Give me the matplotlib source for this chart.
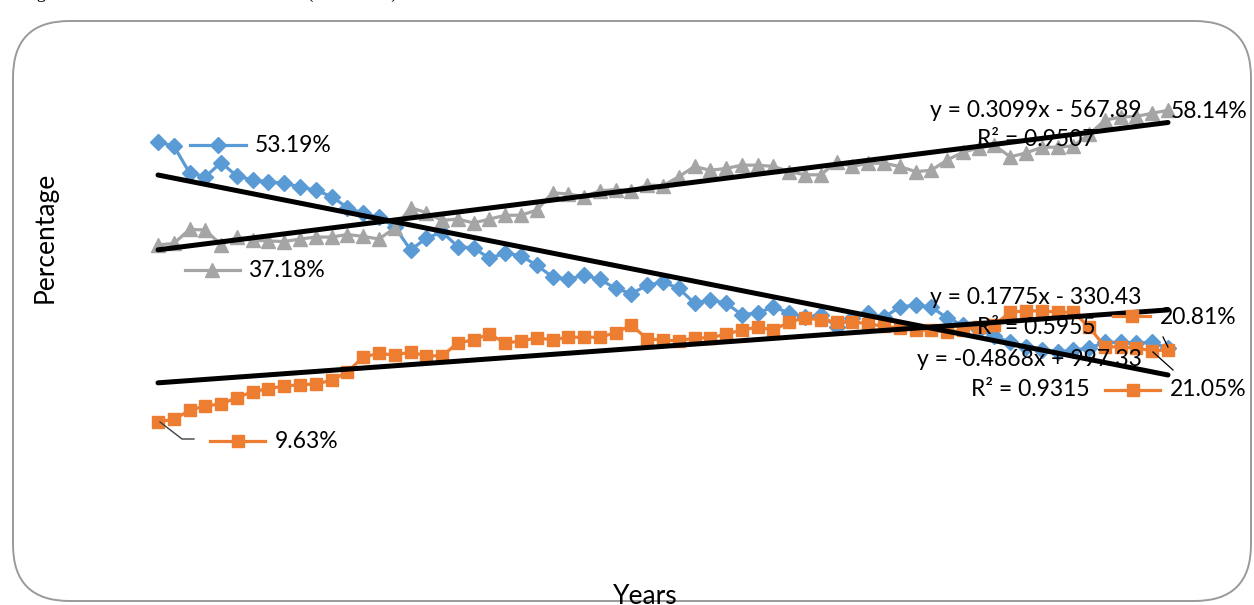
import matplotlib
matplotlib.use("Agg")
import matplotlib.pyplot as plt
from matplotlib.patches import FancyBboxPatch
from matplotlib.lines import Line2D
import numpy as np

# ---------------- data ----------------
years = list(range(1950, 2015))

blue_share = [53.19, 52.6, 48.4, 47.8, 50.0, 47.9, 47.3, 47.0, 46.8, 46.2,
              45.7, 44.7, 43.0, 42.1, 41.5, 40.0, 36.4, 38.2, 39.2, 36.9,
              36.7, 35.1, 35.9, 35.5, 34.0, 32.2, 31.8, 32.5, 31.8, 30.4,
              29.6, 30.9, 31.4, 30.4, 28.1, 28.6, 28.1, 26.3, 26.6, 27.5,
              26.6, 25.9, 26.3, 24.4, 25.8, 26.6, 25.9, 27.5, 27.8, 27.5,
              25.8, 24.7, 23.9, 23.0, 22.0, 21.3, 20.8, 20.5, 20.8, 21.1,
              22.0, 22.0, 21.9, 22.0, 21.05]

gray_share = [37.18, 37.4, 39.6, 39.5, 37.2, 38.4, 37.9, 37.8, 37.7, 38.1,
              38.4, 38.4, 38.8, 38.5, 38.1, 39.8, 43.0, 42.2, 41.0, 41.2,
              40.6, 41.2, 41.8, 41.8, 42.6, 45.3, 45.1, 44.7, 45.6, 45.8,
              45.6, 46.5, 46.4, 47.8, 49.4, 48.8, 49.1, 49.6, 49.6, 49.4,
              48.6, 48.1, 48.1, 50.1, 49.4, 49.9, 49.9, 49.4, 48.6, 48.8,
              50.4, 51.6, 52.3, 52.7, 50.9, 51.5, 52.4, 52.4, 52.6, 54.4,
              56.6, 57.1, 57.2, 57.7, 58.14]

orange_share = [9.63, 10.0, 11.4, 12.1, 12.4, 13.4, 14.3, 14.8, 15.2, 15.4,
                15.5, 16.1, 17.4, 19.7, 20.3, 20.0, 20.5, 19.9, 19.9, 21.9,
                22.4, 23.3, 21.9, 22.2, 22.7, 22.4, 22.8, 22.8, 22.8, 23.5,
                24.7, 22.5, 22.4, 22.2, 22.7, 22.7, 23.3, 23.9, 24.4, 23.9,
                25.2, 25.8, 25.5, 25.2, 25.2, 24.9, 24.5, 24.2, 23.9, 23.9,
                23.6, 23.9, 24.4, 24.7, 26.7, 26.9, 26.9, 26.7, 26.7, 24.4,
                21.3, 21.3, 21.1, 20.7, 20.81]

# trendline equations (slope, intercept) and R^2
blue_trend = (-0.4868, 997.33, 0.9315)
gray_trend = (0.3099, -567.89, 0.9507)
orange_trend = (0.1775, -330.43, 0.5955)

BLUE = "#5B9BD5"
ORANGE = "#ED7D31"
GRAY = "#A5A5A5"

W, H = 1254, 605
plt.rcParams['font.family'] = ['Lato', 'DejaVu Sans']

fig = plt.figure(figsize=(W / 100, H / 100), dpi=100)


def fx(x):
    return x / W


def fy(y):
    return 1 - y / H


# rounded chart border
border = FancyBboxPatch((fx(13), fy(601)), fx(1251) - fx(13), fy(21) - fy(601),
                        boxstyle="round,pad=0,rounding_size=0.045",
                        transform=fig.transFigure, facecolor="none",
                        edgecolor="#9a9a9a", linewidth=1.4, mutation_aspect=W / H,
                        zorder=-1)
fig.patches.append(border)

# axes placement: x 1946..2018, y -5..70
x0, x1 = 1946, 2018
y0, y1 = -5, 70
pxyr = 1010 / 64.0
left_px = 158 - (1950 - x0) * pxyr
right_px = 1168 + (x1 - 2014) * pxyr
ppu = 6.42
bot_px = 483.6 - y0 * ppu
top_px = 483.6 - y1 * ppu
ax = fig.add_axes([fx(left_px), fy(bot_px), fx(right_px - left_px), (bot_px - top_px) / H])
ax.set_xlim(x0, x1)
ax.set_ylim(y0, y1)
ax.axis("off")
ax.set_zorder(2)

ax.plot(years, blue_share, color=BLUE, lw=2.3, marker="D", ms=8, zorder=3)
ax.plot(years, orange_share, color=ORANGE, lw=2.3, marker="s", ms=9, zorder=3)
ax.plot(years, gray_share, color=GRAY, lw=2.3, marker="^", ms=10, zorder=3)

xt = np.array([years[0], years[-1]])
for m, c, _ in (blue_trend, gray_trend, orange_trend):
    ax.plot(xt, m * xt + c, color="black", lw=3.6, solid_capstyle="round", zorder=5)

FS = 16.5


def key(xa, xb, y, color, marker, ms):
    fig.add_artist(Line2D([fx(xa), fx(xb)], [fy(y), fy(y)], color=color, lw=2.3,
                          transform=fig.transFigure, zorder=6))
    fig.add_artist(Line2D([fx((xa + xb) / 2)], [fy(y)], color=color, marker=marker,
                          ms=ms, transform=fig.transFigure, zorder=6))


def label(x, y, s, ha="left"):
    fig.text(fx(x), fy(y), s, fontsize=FS, ha=ha, va="center", zorder=7)


# data labels with legend keys
key(190, 246, 145, BLUE, "D", 8)
label(255, 145, f"{blue_share[0]:.2f}%")
key(185, 240, 270, GRAY, "^", 10)
label(248, 270, f"{gray_share[0]:.2f}%")
key(210, 265, 441, ORANGE, "s", 9)
label(275, 441, f"{orange_share[0]:.2f}%")
fig.add_artist(Line2D([fx(160), fx(182), fx(194)], [fy(422), fy(439), fy(439)],
                      color="#404040", lw=1.0, transform=fig.transFigure, zorder=6))

label(1171, 112, f"{gray_share[-1]:.2f}%")
key(1113, 1150, 316, ORANGE, "s", 9)
label(1160, 318, f"{orange_share[-1]:.2f}%")
fig.add_artist(Line2D([fx(1163), fx(1168)], [fy(337), fy(347)],
                      color="black", lw=0.9, transform=fig.transFigure, zorder=6))
key(1105, 1160, 390, ORANGE, "s", 9)
label(1170, 390, f"{blue_share[-1]:.2f}%")
fig.add_artist(Line2D([fx(1153), fx(1173)], [fy(352), fy(370)],
                      color="black", lw=0.9, transform=fig.transFigure, zorder=6))


def eq(m, c):
    sign = "+" if c >= 0 else "-"
    return f"y = {m:.4f}x {sign} {abs(c):.2f}"


label(1036, 110, eq(*gray_trend[:2]), ha="center")
label(1036, 140, f"R² = {gray_trend[2]:.4f}", ha="center")
label(1036, 297, eq(*orange_trend[:2]), ha="center")
label(1036, 328, f"R² = {orange_trend[2]:.4f}", ha="center")
label(1029, 360, eq(*blue_trend[:2]), ha="center")
label(1030, 390, f"R² = {blue_trend[2]:.4f}", ha="center")

# axis titles
fig.text(fx(45), fy(237), "Percentage", rotation=90, fontsize=19, ha="center", va="center")
fig.text(fx(645), fy(597), "Years", fontsize=19, ha="center", va="center")

# cut-off caption at the very top
fig.text(fx(22), fy(-2), "Figure 1.1: Trends in the sectoral share (1950-2014)",
         family="Liberation Serif", fontsize=13, ha="left", va="baseline")

fig.savefig("out.png", dpi=100)
